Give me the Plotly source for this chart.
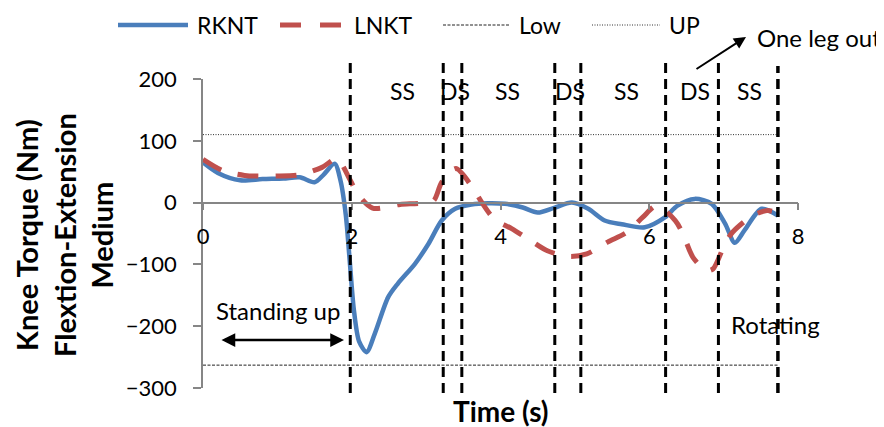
import plotly.graph_objects as go

# ---------------------------------------------------------------------------
# Data
# ---------------------------------------------------------------------------
rknt_t = [0, 0.2, 0.5, 0.8, 1.08, 1.3, 1.5, 1.62, 1.77, 1.85, 1.92, 1.97, 2.03,
          2.1, 2.2, 2.31, 2.49, 2.62, 2.85, 3.03, 3.21, 3.39, 3.61, 3.83, 4.06,
          4.3, 4.5, 4.73, 4.96, 5.18, 5.4, 5.63, 5.94, 6.21, 6.38, 6.61, 6.84,
          7.02, 7.15, 7.28, 7.51, 7.73]
rknt_v = [65, 48, 36, 38, 39, 41, 33, 45, 63, 35, -20, -90, -175,
          -225, -242, -212, -153, -131, -99, -67, -29, -10, -3, -1, -2,
          -8, -16, -8, 0, -10, -29, -35, -40, -24, -5, 6, -2,
          -34, -65, -45, -10, -21]

lnkt_t = [0, 0.26, 0.56, 1.0, 1.3, 1.6, 1.8, 1.98, 2.08, 2.28, 2.65, 2.92,
          3.1, 3.21, 3.4, 3.62, 3.75, 3.92, 4.15, 4.4, 4.63, 4.93, 5.16, 5.44,
          5.7, 5.91, 6.1, 6.35, 6.45, 6.59, 6.77, 6.86, 7.02, 7.12, 7.39, 7.58,
          7.65]
lnkt_v = [70, 52, 44, 43, 45, 57, 71, 36, 14, -9, -3, -1,
          3, 33, 55, 25, 0, -27, -42, -61, -78, -87, -83, -64,
          -48, -24, -5, -29, -50, -89, -110, -107, -66, -48, -21, -13,
          -14]

limit_t = [0, 7.73]
low_v = [-263, -263]
up_v = [110, 110]

phase_bounds = [1.98, 3.23, 3.48, 4.73, 5.08, 6.22, 6.93, 7.73]
phase_labels = ["SS", "DS", "SS", "DS", "SS", "DS", "SS"]
phase_label_t = [2.68, 3.39, 4.1, 4.93, 5.69, 6.61, 7.35]

x_ticks = [0, 2, 4, 6, 8]
y_ticks = [-300, -200, -100, 0, 100, 200]

BLUE = "#4A7EBB"
RED = "#C0504D"
AXIS = "#868686"
FONT = "Lato"

W, H = 884, 427
OFF = 8  # page body margin around the figure
# plot area in window pixels
PL, PR, PT, PB = 203, 798, 79, 388


def px(x):
    return (x - PL) / (PR - PL)


def py(y):
    return (PB - y) / (PB - PT)


fig = go.Figure()

fig.add_trace(go.Scatter(
    x=limit_t, y=low_v, mode="lines", name="Low",
    line=dict(color="#222222", width=1, dash="3px,1.5px"), showlegend=False,
))
fig.add_trace(go.Scatter(
    x=limit_t, y=up_v, mode="lines", name="UP",
    line=dict(color="#333333", width=1, dash="1px,1.5px"), showlegend=False,
))
fig.add_trace(go.Scatter(
    x=rknt_t, y=rknt_v, mode="lines", name="RKNT",
    line=dict(color=BLUE, width=4.5, shape="spline", smoothing=0.8),
    showlegend=False,
))
fig.add_trace(go.Scatter(
    x=lnkt_t, y=lnkt_v, mode="lines", name="LNKT",
    line=dict(color=RED, width=5, shape="spline", smoothing=0.8,
              dash="21px,17px"),
    showlegend=False,
))

shapes = []
# phase boundaries (dashed black verticals, overshooting the plot area)
for i, t in enumerate(phase_bounds):
    last = i == len(phase_bounds) - 1
    shapes.append(dict(
        type="line", xref="x", yref="paper", x0=t, x1=t,
        y0=py(393), y1=py(66 if last else 63),
        line=dict(color="black", width=3.5 if last else 3, dash="10px,6px"),
        layer="above",
    ))

# custom legend samples
legend_items = [
    ("RKNT", 118, 188, dict(color=BLUE, width=4.5)),
    ("LNKT", 280, 345, dict(color=RED, width=5, dash="21px,19px")),
    ("Low", 443, 510, dict(color="#222222", width=1, dash="3px,1.5px")),
    ("UP", 592, 660, dict(color="#333333", width=1, dash="1px,1.5px")),
]
annotations = []
for name, x0, x1, ln in legend_items:
    shapes.append(dict(type="line", xref="paper", yref="paper",
                       x0=px(x0), x1=px(x1), y0=py(25), y1=py(25), line=ln))
    annotations.append(dict(
        text=name, xref="paper", yref="paper", x=px(x1 + 7), y=py(25),
        xanchor="left", yanchor="middle", showarrow=False,
        font=dict(size=23, color="black", family=FONT),
    ))

for lab, t in zip(phase_labels, phase_label_t):
    annotations.append(dict(
        text=lab, xref="x", yref="y", x=t, y=180, showarrow=False,
        xanchor="center", yanchor="middle",
        font=dict(size=23, color="black", family=FONT),
    ))

annotations += [
    # axis titles
    dict(text="Time (s)", xref="paper", yref="paper", x=px(501), y=py(411),
         xanchor="center", yanchor="middle", showarrow=False,
         font=dict(size=28, color="black", family=FONT, weight="bold")),
    dict(text="Knee Torque (Nm)<br>Flextion-Extension<br>Medium",
         xref="paper", yref="paper", x=px(64), y=py(235), textangle=-90,
         xanchor="center", yanchor="middle", showarrow=False,
         font=dict(size=29, color="black", family=FONT, weight="bold")),
    # one leg out
    dict(text="One leg out", xref="paper", yref="paper", x=px(755), y=py(37),
         xanchor="left", yanchor="middle", showarrow=False,
         font=dict(size=24, color="black", family=FONT)),
    dict(text="", xref="paper", yref="paper", x=px(746), y=py(37),
         ax=-51, ay=33, showarrow=True, arrowhead=2, arrowsize=1.2,
         arrowwidth=2, arrowcolor="black"),
    # standing up
    dict(text="Standing up", xref="paper", yref="paper", x=px(278), y=py(310),
         xanchor="center", yanchor="middle", showarrow=False,
         font=dict(size=24, color="black", family=FONT)),
    dict(text="", xref="paper", yref="paper", x=px(344), y=py(340),
         ax=-124, ay=0, showarrow=True, arrowhead=2, startarrowhead=2,
         arrowside="end+start", arrowsize=1.1, arrowwidth=2.5,
         arrowcolor="black"),
    # rotating
    dict(text="Rotating", xref="paper", yref="paper", x=px(775), y=py(324),
         xanchor="center", yanchor="middle", showarrow=False,
         font=dict(size=24, color="black", family=FONT)),
]

fig.update_layout(
    width=W - OFF, height=H - OFF,
    margin=dict(l=PL - OFF, r=W - PR, t=PT - OFF, b=H - PB, autoexpand=False),
    paper_bgcolor="white", plot_bgcolor="white",
    showlegend=False,
    shapes=shapes, annotations=annotations,
    font=dict(family=FONT, color="black"),
)
fig.update_xaxes(
    range=[0, 8], tickvals=x_ticks, showgrid=False, zeroline=False,
    showline=True, linecolor=AXIS, linewidth=1.5,
    ticks="outside", ticklen=7, tickcolor=AXIS, tickwidth=1.5,
    anchor="free", position=0.6, ticklabelstandoff=7,
    tickfont=dict(size=22, family=FONT, color="black"),
)
fig.update_yaxes(
    range=[-300, 200], tickvals=y_ticks, showgrid=False, zeroline=False,
    showline=True, linecolor=AXIS, linewidth=1.5,
    ticks="outside", ticklen=8, tickcolor=AXIS, tickwidth=1.5,
    ticklabelstandoff=12,
    tickfont=dict(size=22, family=FONT, color="black"),
)

fig.write_html("out.html")
